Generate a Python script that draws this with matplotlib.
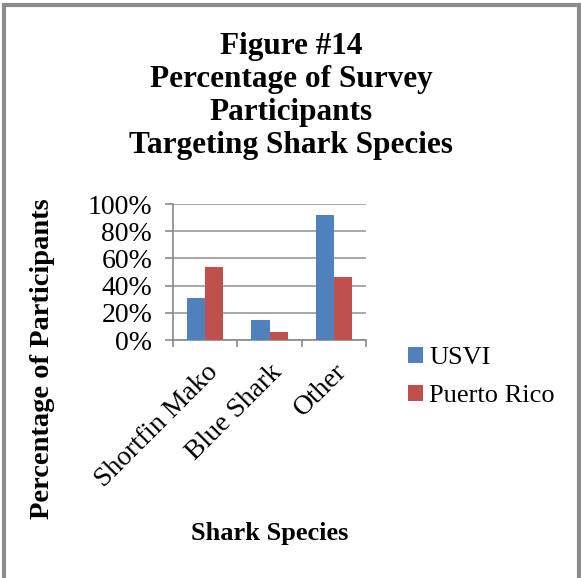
import numpy as np
import matplotlib.pyplot as plt
from matplotlib.patches import Rectangle

# data
species = ["Shortfin Mako", "Blue Shark", "Other"]
usvi = [31, 15, 92]
puerto_rico = [54, 6, 46]
series_names = ["USVI", "Puerto Rico"]
y_ticks = [0, 20, 40, 60, 80, 100]
y_tick_labels = ["0%", "20%", "40%", "60%", "80%", "100%"]
title_lines = ["Figure #14", "Percentage of Survey", "Participants", "Targeting Shark Species"]

plt.rcParams["font.family"] = ["Liberation Serif", "DejaVu Serif"]

W, H = 581, 578
fig = plt.figure(figsize=(W / 100, H / 100), dpi=100)
ax = fig.add_axes([173 / W, 1 - 340 / H, (366 - 173) / W, (340 - 204) / H])

x = np.arange(len(species))
w = 0.28
ax.bar(x - w / 2, usvi, w, color="#4F81BD", label=series_names[0], zorder=3)
ax.bar(x + w / 2, puerto_rico, w, color="#C0504D", label=series_names[1], zorder=3)

ax.set_xlim(-0.5, len(species) - 0.5)
ax.set_ylim(0, 100)
ax.set_yticks(y_ticks)
ax.set_yticklabels(y_tick_labels, fontsize=20)
ax.yaxis.grid(True, color="#9a9a9a", linewidth=1.2, zorder=0)

# category ticks sit between groups
ax.set_xticks(np.arange(len(species) + 1) - 0.5)
ax.set_xticklabels([])
ax.set_xticks(x, minor=True)
ax.set_xticklabels(species, minor=True, rotation=45, ha="right",
                   rotation_mode="anchor", fontsize=20)
ax.tick_params(axis="x", which="minor", length=0, pad=14)
ax.tick_params(axis="x", which="major", length=5, width=1.2, color="#8a8a8a")
ax.tick_params(axis="y", length=6, width=1.2, color="#8a8a8a", pad=9)

for s in ["top", "right"]:
    ax.spines[s].set_visible(False)
for s in ["left", "bottom"]:
    ax.spines[s].set_color("#8a8a8a")
    ax.spines[s].set_linewidth(1.2)

fig.text(43 / W, 1 - 359 / H, "Percentage of Participants", rotation=90,
         fontsize=20.5, fontweight="bold", ha="center", va="center")
fig.text(270 / W, 1 - 540 / H, "Shark Species", fontsize=19, fontweight="bold",
         ha="center", va="baseline")

for line, base in zip(title_lines, [54, 87, 120, 153]):
    fig.text(291 / W, 1 - base / H, line, ha="center", va="baseline",
             fontsize=22.5, fontweight="bold")

fig.legend(loc="center left", bbox_to_anchor=(408 / W, 1 - 377 / H), frameon=False,
           fontsize=19, handlelength=0.55, handleheight=0.55, handletextpad=0.25,
           labelspacing=0.6, borderpad=0, borderaxespad=0)

fig.patches.append(Rectangle((0.007, -0.01), 0.99, 1.002, transform=fig.transFigure,
                             fill=False, edgecolor="#8c8c8c", linewidth=3))

fig.savefig("out.png", dpi=100)
